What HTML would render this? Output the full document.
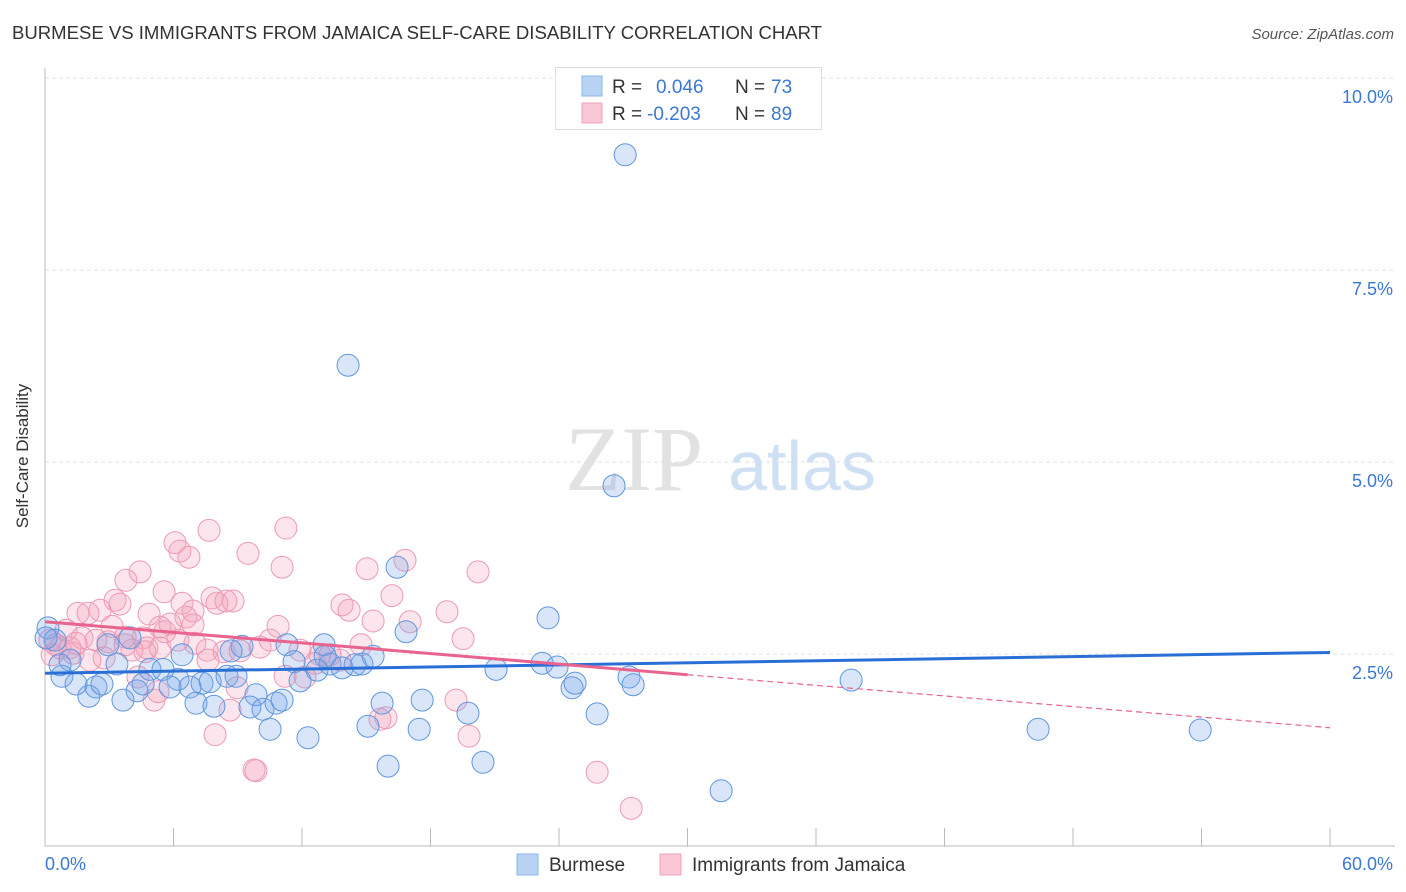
<!DOCTYPE html>
<html><head><meta charset="utf-8">
<style>
html,body{margin:0;padding:0;background:#fff;}
svg{display:block;font-family:"Liberation Sans",sans-serif;}
</style></head>
<body>
<svg id="chart" width="1406" height="892" viewBox="0 0 1406 892">
<text x="12" y="39" font-size="18" fill="#333" textLength="810" lengthAdjust="spacingAndGlyphs">BURMESE VS IMMIGRANTS FROM JAMAICA SELF-CARE DISABILITY CORRELATION CHART</text>
<text x="1394" y="39" font-size="15" fill="#555" font-style="italic" text-anchor="end">Source: ZipAtlas.com</text>
<g id="grid"></g>
<g id="watermark">
<text x="634" y="490" font-size="92" font-family="Liberation Serif,serif" fill="#e2e2e2" text-anchor="middle">ZIP</text>
<text x="802" y="490" font-size="70" fill="#cfe0f4" text-anchor="middle">atlas</text>
</g>
<g id="axes"></g>
<g id="pinkpts"></g>
<g id="bluepts"></g>
<g id="trends"></g>
<text x="28" y="456" font-size="17" fill="#333" text-anchor="middle" transform="rotate(-90 28 456)">Self-Care Disability</text>
<g>
<rect x="555.5" y="67.5" width="266" height="62" fill="#fff" stroke="#ddd"/>
<rect x="582" y="76" width="20" height="20" fill="#b9d3f5" stroke="#8ab4ea"/>
<rect x="582" y="103" width="20" height="20" fill="#f9c7d6" stroke="#f0a3bb"/>
<text x="612" y="93" font-size="19" fill="#333">R = </text><text x="656" y="93" font-size="19" fill="#3a78d4">0.046</text>
<text x="735" y="93" font-size="19" fill="#333">N = </text><text x="771" y="93" font-size="19" fill="#3a78d4">73</text>
<text x="612" y="120" font-size="19" fill="#333">R = </text><text x="647" y="120" font-size="19" fill="#3a78d4">-0.203</text>
<text x="735" y="120" font-size="19" fill="#333">N = </text><text x="771" y="120" font-size="19" fill="#3a78d4">89</text>
</g>
<g>
<rect x="517" y="854" width="21" height="21" fill="#b9d3f5" stroke="#8ab4ea"/>
<text x="549" y="871" font-size="19" fill="#333">Burmese</text>
<rect x="660" y="854" width="21" height="21" fill="#f9c7d6" stroke="#f0a3bb"/>
<text x="692" y="871" font-size="19" fill="#333">Immigrants from Jamaica</text>
</g>
</svg>
<script>
const yTicks=[2.5,5.0,7.5,10.0];
const yTickLabels=["2.5%","5.0%","7.5%","10.0%"];
const xTickLabels=["0.0%","60.0%"];
const blueX=[27.09,14.15,26.57,16.44,23.49,16.86,11.30,13.03,0.14,0.47,1.17,0.79,3.36,3.97,2.94,4.90,5.51,6.40,6.21,7.33,7.71,8.50,8.92,9.20,8.69,11.63,13.08,13.31,13.87,14.48,14.80,15.32,12.70,11.91,4.30,3.64,2.05,1.45,2.38,2.66,4.58,5.84,6.77,7.05,7.89,9.85,9.57,10.18,10.79,11.07,10.51,12.28,15.74,15.08,16.02,17.47,17.61,19.75,20.45,23.21,23.91,24.61,24.75,27.27,27.46,25.78,31.57,37.64,46.37,53.94,21.06,0.05,0.70];
const blueY=[9.00,6.26,4.69,3.63,2.97,2.79,2.62,2.62,2.84,2.68,2.42,2.21,2.37,2.71,2.62,2.30,2.30,2.49,2.17,2.12,2.14,2.21,2.21,2.60,2.54,2.40,2.47,2.37,2.32,2.36,2.37,2.47,2.29,2.15,2.02,1.90,1.95,2.11,2.07,2.11,2.11,2.07,2.07,1.86,1.82,1.97,1.81,1.78,1.86,1.90,1.52,1.41,1.86,1.56,1.04,1.52,1.90,1.73,1.09,2.38,2.33,2.06,2.12,2.20,2.10,1.72,0.72,2.16,1.52,1.51,2.30,2.71,2.36];
const pinkX=[1.54,2.01,3.78,4.44,3.27,3.50,5.56,6.30,6.07,6.72,7.66,11.25,9.48,11.07,7.80,8.03,8.45,8.78,6.40,6.91,4.86,6.58,5.84,5.37,4.58,3.74,3.13,2.94,2.38,1.73,0.98,0.51,0.33,0.70,1.31,2.10,2.76,4.06,4.76,5.37,6.21,7.00,7.57,8.36,9.11,10.04,10.88,7.61,8.97,8.64,7.94,5.09,5.28,4.34,9.76,9.85,11.21,12.14,12.61,13.78,15.04,13.87,14.20,14.76,15.32,16.20,17.05,16.81,20.22,18.77,19.52,15.92,15.64,19.19,19.80,25.78,27.37,11.91,12.84,2.57,1.17,0.23,1.45,3.74,4.67,5.60,10.51,6.91,13.31];
const pinkY=[3.03,3.03,3.46,3.57,3.20,3.15,3.31,3.84,3.95,3.76,4.11,4.14,3.81,3.63,3.23,3.16,3.19,3.19,3.16,3.06,3.02,2.98,2.89,2.85,2.71,2.72,2.86,2.66,2.68,2.71,2.81,2.62,2.49,2.58,2.51,2.42,2.45,2.55,2.58,2.58,2.68,2.64,2.55,2.53,2.54,2.59,2.86,2.42,2.06,1.77,1.45,1.90,2.01,2.20,0.99,0.98,2.21,2.20,2.38,2.42,3.61,3.14,3.07,2.62,2.93,3.26,2.92,3.72,3.57,3.05,2.70,1.67,1.65,1.90,1.43,0.96,0.49,2.55,2.49,3.07,2.58,2.68,2.64,2.62,2.53,2.79,2.68,2.88,2.49];
const blueTrend=[2.25,2.52];
const pinkTrend=[2.92,1.54];
const pinkSolidEnd=30;

const X0=45,X1=1330,Y0=846,YPX=76.8;
const sx=v=>X0+v/60*(X1-X0);
const sy=v=>Y0-v*YPX;
const NS="http://www.w3.org/2000/svg";
function mk(tag,attrs,parent){const e=document.createElementNS(NS,tag);for(const k in attrs)e.setAttribute(k,attrs[k]);parent.appendChild(e);return e;}
const grid=document.getElementById('grid');
const gtop=mk('line',{x1:X0,x2:1395,y1:78,y2:78,stroke:'#e2e2e2','stroke-dasharray':'4 3'},grid);


yTicks.forEach((t,i)=>{
  const l=mk('line',{x1:X0,x2:1395,y1:sy(t),y2:sy(t),stroke:'#e2e2e2','stroke-dasharray':'4 3'},grid);
  
  
  const tx=mk('text',{x:1393,y:sy(t)+25,'font-size':18,fill:'#3a78d4','text-anchor':'end'},grid);
  tx.textContent=yTickLabels[i];
  
  
});
const axes=document.getElementById('axes');
mk('line',{x1:X0,x2:X0,y1:68,y2:Y0,stroke:'#bbb'},axes);
mk('line',{x1:X0,x2:1395,y1:Y0,y2:Y0,stroke:'#bbb'},axes);
for(let i=0;i<=10;i++){const x=sx(i*6);mk('line',{x1:x,x2:x,y1:828,y2:Y0,stroke:'#bbb'},axes);}
const xl0=mk('text',{x:45,y:870,'font-size':18,fill:'#3a78d4'},axes);xl0.textContent=xTickLabels[0];


const xl1=mk('text',{x:1393,y:870,'font-size':18,fill:'#3a78d4','text-anchor':'end'},axes);xl1.textContent=xTickLabels[1];


const bp=document.getElementById('bluepts'),pp=document.getElementById('pinkpts');
pinkX.forEach((x,i)=>{const c=mk('circle',{cx:sx(x),cy:sy(pinkY[i]),r:11,fill:'rgba(244,160,188,0.28)',stroke:'#ec9ab4','stroke-width':1},pp);
  
  });
blueX.forEach((x,i)=>{const c=mk('circle',{cx:sx(x),cy:sy(blueY[i]),r:11,fill:'rgba(120,165,232,0.28)',stroke:'#6096de','stroke-width':1},bp);
  
  });
const tr=document.getElementById('trends');
const bt=mk('line',{x1:sx(0),y1:sy(blueTrend[0]),x2:sx(60),y2:sy(blueTrend[1]),stroke:'#2a6fd6','stroke-width':3},tr);


const pm=pinkTrend[0]+(pinkTrend[1]-pinkTrend[0])*pinkSolidEnd/60;
const ps=mk('line',{x1:sx(0),y1:sy(pinkTrend[0]),x2:sx(pinkSolidEnd),y2:sy(pm),stroke:'#e8648e','stroke-width':3},tr);


const pd=mk('line',{x1:sx(pinkSolidEnd),y1:sy(pm),x2:sx(60),y2:sy(pinkTrend[1]),stroke:'#e8648e','stroke-width':1.2,'stroke-dasharray':'6 4'},tr);


</script>
</body></html>
